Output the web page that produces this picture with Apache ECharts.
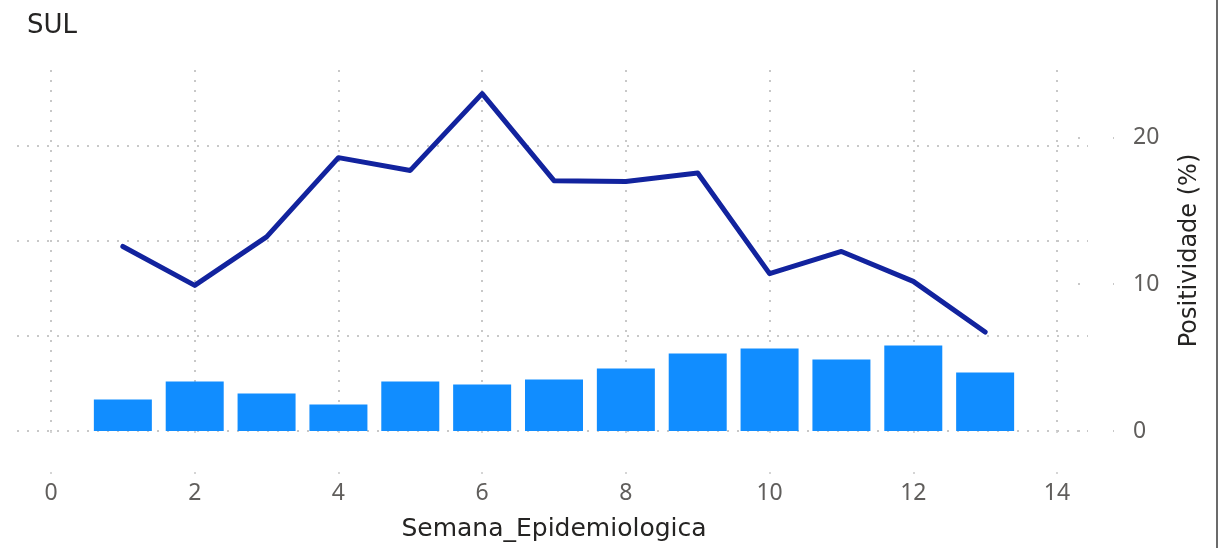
<!DOCTYPE html>
<html>
<head>
<meta charset="utf-8">
<script src="https://cdn.jsdelivr.net/npm/echarts@6/dist/echarts.min.js"></script>
<style>
  html, body { margin: 0; padding: 0; background: #fff; }
  #chart { width: 1221px; height: 548px; position: relative; }
  #edge { position: absolute; left: 1216px; top: 0; width: 2px; height: 548px; background: #6b6b6b; }
</style>
</head>
<body>
<div id="chart"></div>
<div id="edge"></div>
<script>
// Data
const weeks = [1, 2, 3, 4, 5, 6, 7, 8, 9, 10, 11, 12, 13];
const casos = [16.5, 26.0, 19.7, 13.9, 26.0, 24.4, 27.0, 32.8, 40.7, 43.3, 37.5, 44.9, 30.7];
const positividade = [12.57, 9.92, 13.22, 18.62, 17.75, 22.98, 17.05, 17.0, 17.57, 10.72, 12.23, 10.19, 6.74];
const rightTicks = [0, 10, 20];

const FONT = 'Noto Sans';
const NAMEFONT = 'DejaVu Sans';
const chart = echarts.init(document.getElementById('chart'), null, { renderer: 'canvas' });

const dotted = { color: '#c8c8c8', type: [2, 8], width: 2 };

const option = {
  animation: false,
  backgroundColor: '#ffffff',
  title: {
    text: 'SUL', left: 22, top: 8,
    textStyle: { fontFamily: NAMEFONT, fontSize: 26, fontWeight: 'normal', color: '#252423' }
  },
  grid: [
    { left: 51, right: 164, top: 70, bottom: 117 },
    { left: 17, right: 133, top: 146, bottom: 117 }
  ],
  xAxis: [
    {
      type: 'value', gridIndex: 0, min: 0, max: 14, interval: 2,
      axisLine: { show: false },
      axisTick: { show: true, length: 43, lineStyle: { color: '#c8c8c8', type: [2, 39], width: 1.5 } },
      axisLabel: { margin: 51, color: '#605E5C', fontSize: 23, fontFamily: FONT },
      splitLine: { show: true, lineStyle: dotted },
      name: 'Semana_Epidemiologica', nameLocation: 'middle', nameGap: 86,
      nameTextStyle: { fontFamily: NAMEFONT, fontSize: 25, color: '#252423' }
    },
    { type: 'value', gridIndex: 1, min: 0, max: 1, show: false }
  ],
  yAxis: [
    {
      type: 'value', gridIndex: 0, min: 0, max: 189.4, interval: 50,
      axisLine: { show: false }, axisTick: { show: false }, axisLabel: { show: false },
      splitLine: { show: false }
    },
    {
      type: 'value', gridIndex: 0, position: 'right', offset: 21, min: 0, max: 24.59, interval: 10,
      axisLine: { show: false },
      axisTick: { show: true, length: 36, customValues: rightTicks, lineStyle: { color: '#c8c8c8', type: [2, 33], width: 2 } },
      axisLabel: { margin: 55, color: '#605E5C', fontSize: 23, fontFamily: FONT, customValues: rightTicks },
      splitLine: { show: false },
      name: 'Positividade (%)', nameLocation: 'middle', nameRotate: 90, nameGap: 100,
      nameTextStyle: { fontFamily: NAMEFONT, fontSize: 24, color: '#252423' }
    },
    {
      type: 'value', gridIndex: 1, min: 0, max: 150, interval: 50,
      axisLine: { show: false }, axisTick: { show: false }, axisLabel: { show: false },
      splitLine: { show: true, lineStyle: dotted }
    }
  ],
  series: [
    {
      type: 'bar', xAxisIndex: 0, yAxisIndex: 0, barWidth: 58,
      itemStyle: { color: '#118DFF' },
      data: weeks.map((w, i) => [w, casos[i]]),
      z: 3
    },
    {
      type: 'line', xAxisIndex: 0, yAxisIndex: 1,
      showSymbol: false, symbol: 'none',
      lineStyle: { color: '#12239E', width: 5, cap: 'round', join: 'round' },
      data: weeks.map((w, i) => [w, positividade[i]]),
      z: 4
    }
  ]
};
chart.setOption(option);
</script>
</body>
</html>
